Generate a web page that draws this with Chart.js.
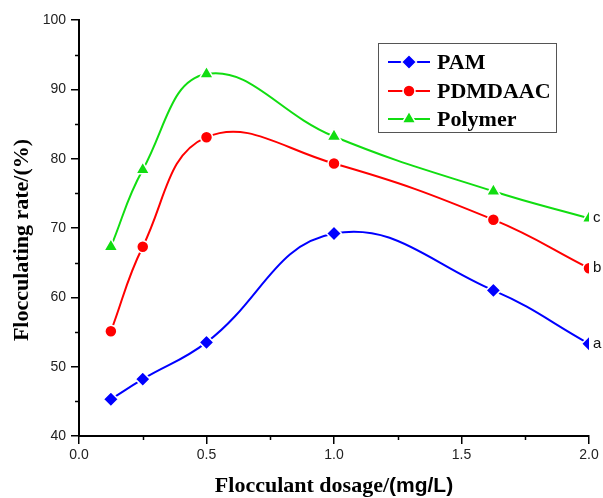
<!DOCTYPE html>
<html>
<head>
<meta charset="utf-8">
<script src="https://cdn.jsdelivr.net/npm/chart.js@4"></script>
<style>
  html, body { margin: 0; padding: 0; background: #fff; }
  #wrap { width: 603px; height: 498px; }
</style>
</head>
<body>
<div id="wrap"><canvas id="floc"></canvas></div>
<script>
// dosage (mg/L) and flocculating rate (%)
const dosage = [0.125, 0.25, 0.5, 1.0, 1.625, 2.0];
const pam = [45.3, 48.2, 53.5, 69.2, 61.0, 53.3];
const pdmdaac = [55.1, 67.3, 83.1, 79.3, 71.2, 64.2];
const polymer = [67.3, 78.4, 92.2, 83.2, 75.3, 71.4];
const seriesNames = ['PAM', 'PDMDAAC', 'Polymer'];
const endLabels = ['a', 'b', 'c'];
const xTicks = [0.0, 0.5, 1.0, 1.5, 2.0];
const xMinor = [0.25, 0.75, 1.25, 1.75];
const yMinor = [45, 55, 65, 75, 85, 95];

const colors = ['#0000ff', '#ff0000', '#11dd11'];
const styles = ['rectRot', 'circle', 'triangle'];
const radii = [7.5, 6, 8];

const toPts = vals => dosage.map((x, i) => ({ x: x, y: vals[i] }));

const datasets = [pam, pdmdaac, polymer].map((vals, i) => ({
  label: seriesNames[i],
  data: toPts(vals),
  borderColor: colors[i],
  backgroundColor: colors[i],
  borderWidth: 2,
  pointStyle: styles[i],
  pointRadius: radii[i],
  pointBackgroundColor: colors[i],
  pointBorderColor: '#fff',
  pointBorderWidth: 1.5,
  tension: 0.42
}));

// minor ticks, end labels, titles and the boxed legend
const extras = {
  id: 'extras',
  afterDraw(chart) {
    const ctx = chart.ctx;
    const xs = chart.scales.x, ys = chart.scales.y;
    const area = chart.chartArea;
    ctx.save();
    ctx.strokeStyle = '#000';
    ctx.lineWidth = 1.5;
    yMinor.forEach(v => {
      const py = Math.round(ys.getPixelForValue(v)) + 0.5;
      ctx.beginPath(); ctx.moveTo(area.left - 4, py); ctx.lineTo(area.left, py); ctx.stroke();
    });
    xMinor.forEach(v => {
      const px = Math.round(xs.getPixelForValue(v)) + 0.5;
      ctx.beginPath(); ctx.moveTo(px, area.bottom); ctx.lineTo(px, area.bottom + 4); ctx.stroke();
    });

    // a / b / c next to the last points
    ctx.fillStyle = '#111';
    ctx.font = '15px "Liberation Sans", Arial, sans-serif';
    ctx.textAlign = 'left';
    ctx.textBaseline = 'middle';
    chart.data.datasets.forEach((ds, i) => {
      const last = ds.data[ds.data.length - 1];
      ctx.fillText(endLabels[i], xs.getPixelForValue(last.x) + 4, ys.getPixelForValue(last.y));
    });

    // x title: serif part + sans part
    const serifB = 'bold 22px "Liberation Serif", "Times New Roman", serif';
    const sansB = 'bold 21px "Liberation Sans", Arial, sans-serif';
    const t1 = 'Flocculant dosage/', t2 = '(mg/L)';
    ctx.font = serifB; const w1 = ctx.measureText(t1).width;
    ctx.font = sansB; const w2 = ctx.measureText(t2).width;
    const cx = (area.left + area.right) / 2;
    let sx = cx - (w1 + w2) / 2;
    ctx.textBaseline = 'alphabetic';
    ctx.fillStyle = '#000';
    ctx.font = serifB; ctx.fillText(t1, sx, 492);
    ctx.font = sansB; ctx.fillText(t2, sx + w1, 492);

    // y title
    ctx.save();
    ctx.translate(28, 240);
    ctx.rotate(-Math.PI / 2);
    ctx.font = serifB;
    ctx.textAlign = 'center';
    ctx.fillText('Flocculating rate/(%)', 0, 0);
    ctx.restore();

    // legend box
    const lx = 378, ly = 43, lw = 178, lh = 89;
    ctx.fillStyle = '#fff';
    ctx.fillRect(lx, ly, lw, lh);
    ctx.strokeStyle = '#555';
    ctx.lineWidth = 1;
    ctx.strokeRect(lx + 0.5, ly + 0.5, lw, lh);
    const rowY = [62, 91, 119];
    chart.data.datasets.forEach((ds, i) => {
      const y = rowY[i];
      ctx.strokeStyle = ds.borderColor;
      ctx.lineWidth = 2;
      ctx.beginPath(); ctx.moveTo(388, y); ctx.lineTo(430, y); ctx.stroke();
      ctx.fillStyle = ds.borderColor;
      ctx.strokeStyle = '#fff';
      ctx.lineWidth = 1.5;
      Chart.helpers.drawPoint(ctx, { pointStyle: ds.pointStyle, radius: ds.pointRadius, borderWidth: 1.5, rotation: 0 }, 409, y);
      ctx.fillStyle = '#000';
      ctx.font = serifB;
      ctx.textAlign = 'left';
      ctx.textBaseline = 'middle';
      ctx.fillText(ds.label, 437, y + 1);
    });
    ctx.restore();
  }
};

new Chart(document.getElementById('floc'), {
  type: 'line',
  data: { datasets: datasets },
  options: {
    responsive: true,
    maintainAspectRatio: false,
    animation: false,
    layout: { padding: { top: 20, right: 14, left: 0, bottom: 0 } },
    plugins: { legend: { display: false }, tooltip: { enabled: false } },
    scales: {
      x: {
        type: 'linear',
        min: 0, max: 2,
        afterFit: s => { s.height = 62; },
        afterBuildTicks: s => { s.ticks = xTicks.map(v => ({ value: v })); },
        ticks: {
          color: '#222',
          font: { family: '"Liberation Sans", Arial, sans-serif', size: 14 },
          padding: 3,
          maxRotation: 0,
          callback: v => v.toFixed(1)
        },
        grid: { display: true, drawOnChartArea: false, drawTicks: true, tickLength: 8, color: '#000', lineWidth: 1.5 },
        border: { display: true, color: '#000', width: 2 }
      },
      y: {
        min: 40, max: 100,
        afterFit: s => { s.width = 79; },
        ticks: {
          stepSize: 10,
          color: '#222',
          font: { family: '"Liberation Sans", Arial, sans-serif', size: 14 },
          padding: 5
        },
        grid: { display: true, drawOnChartArea: false, drawTicks: true, tickLength: 8, color: '#000', lineWidth: 1.5 },
        border: { display: true, color: '#000', width: 2 }
      }
    }
  },
  plugins: [extras]
});
</script>
</body>
</html>
